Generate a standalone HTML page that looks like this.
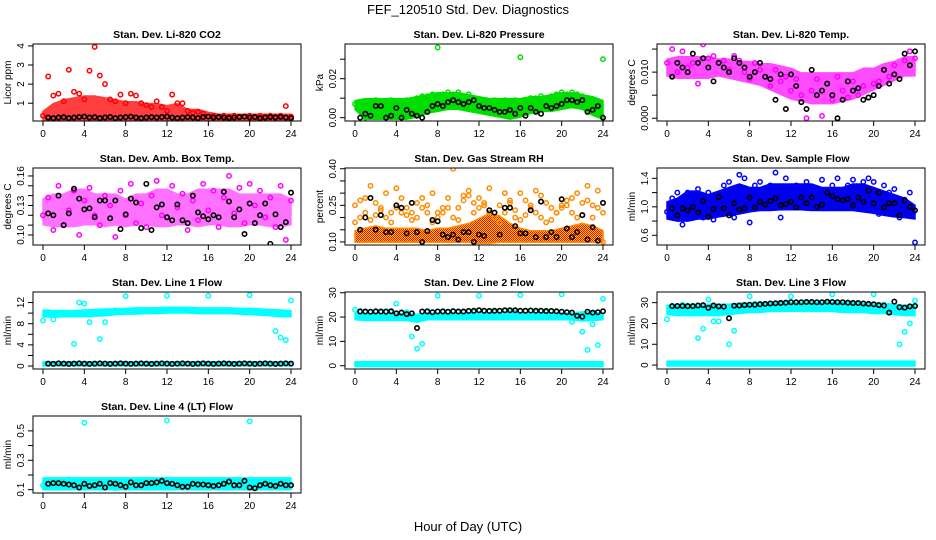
<!DOCTYPE html>
<html><head><meta charset="utf-8"><style>
html,body{margin:0;padding:0;background:#fff;}
svg{display:block;font-family:"Liberation Sans",sans-serif;}
</style></head><body>
<svg id="fig" width="936" height="540" viewBox="0 0 936 540">
<defs>
<pattern id="rhpat" width="2" height="2" patternUnits="userSpaceOnUse"><rect width="2" height="2" fill="#ffd400"/><rect width="1" height="1" fill="#f00"/><rect x="1" y="1" width="1" height="1" fill="#f00"/></pattern>
</defs>
<text x="468" y="14" text-anchor="middle" font-size="13">FEF_120510  Std. Dev. Diagnostics</text>
<text x="468" y="531" text-anchor="middle" font-size="13">Hour of Day (UTC)</text>
</svg>
<script>
// ---- data arrays ----
const xTicks = [0,4,8,12,16,20,24];
const co2Red = [0.35,2.4,1.4,1.5,1.1,2.75,1.6,1.5,1.2,2.7,3.95,2.45,2.0,1.2,1.1,1.45,1.0,1.5,1.4,1.0,0.9,0.8,1.1,0.8,0.6,1.45,1.0,1.0,0.6,0.5,0.55,0.45,0.3,0.35,0.3,0.35,0.3,0.35,0.3,0.3,0.35,0.3,0.35,0.3,0.35,0.3,0.35,0.85,0.3];
const co2Black = [0.25,0.22,0.25,0.27,0.22,0.25,0.28,0.3,0.25,0.27,0.22,0.25,0.28,0.22,0.25,0.27,0.3,0.25,0.22,0.25,0.27,0.25,0.28,0.3,0.25,0.22,0.25,0.27,0.25,0.22,0.28,0.3,0.25,0.27,0.25,0.22,0.25,0.27,0.3,0.25,0.27,0.22,0.25,0.27,0.25,0.28,0.25,0.22];
const co2Hi = [0.5,0.9,1.1,1.2,1.3,1.3,1.2,1.1,1.0,1.0,0.9,0.9,0.8,0.9,0.6,0.6,0.45,0.35,0.35,0.35,0.35,0.35,0.35,0.35,0.35];
const co2Lo = [0.2,0.2,0.2,0.2,0.2,0.2,0.2,0.2,0.2,0.2,0.2,0.2,0.2,0.2,0.2,0.2,0.2,0.2,0.2,0.2,0.2,0.2,0.2,0.2,0.2];
const co2Ticks = [1,2,3,4];
const co2Labels = ["1","2","3","4"];

const presGreen = [0.007,0.008,0.000,0.008,0.009,0.007,0.008,0.009,0.006,0.008,0.009,0.007,0.010,0.011,0.011,0.012,0.036,0.012,0.013,0.012,0.013,0.011,0.012,0.010,0.009,0.009,0.008,0.009,0.008,0.009,0.008,0.009,0.031,0.009,0.010,0.010,0.011,0.010,0.011,0.012,0.013,0.012,0.013,0.012,0.011,0.010,0.009,0.008,0.030];
const presBlack = [0.000,0.002,0.001,0.006,0.006,0.000,0.001,0.005,0.000,0.004,0.002,0.001,0.000,0.003,0.006,0.007,0.006,0.008,0.009,0.008,0.007,0.008,0.009,0.006,0.005,0.005,0.004,0.003,0.003,0.004,0.002,0.005,0.001,0.005,0.003,0.002,0.006,0.005,0.006,0.007,0.009,0.009,0.008,0.009,0.003,0.004,0.006,0.000];
const presHi = [0.008,0.009,0.009,0.009,0.009,0.009,0.010,0.011,0.012,0.012,0.012,0.011,0.010,0.009,0.009,0.009,0.009,0.010,0.010,0.011,0.012,0.012,0.011,0.010,0.008];
const presLo = [0.005,0.000,0.000,0.000,0.000,0.000,0.001,0.003,0.004,0.005,0.005,0.004,0.003,0.002,0.001,0.000,0.001,0.003,0.004,0.004,0.005,0.006,0.005,0.002,0.000];
const presTicks = [0,0.01,0.02,0.03];
const presLabels = ["0.00","","0.02",""];

const tempMag = [0.012,0.015,0.010,0.0145,0.011,0.012,0.0075,0.016,0.013,0.0135,0.012,0.0125,0.0105,0.0135,0.0125,0.010,0.0085,0.012,0.0105,0.009,0.007,0.0105,0.008,0.009,0.006,0.0085,0.005,0.0000,0.006,0.0085,0.0005,0.0075,0.004,0.009,0.006,0.0045,0.008,0.005,0.007,0.0045,0.0075,0.008,0.0105,0.009,0.0115,0.0085,0.0125,0.0145,0.013];
const tempBlack = [0.009,0.012,0.011,0.010,0.014,0.012,0.013,0.011,0.008,0.012,0.011,0.010,0.013,0.012,0.011,0.009,0.010,0.012,0.009,0.0085,0.004,0.0095,0.002,0.0095,0.007,0.0035,0.002,0.0105,0.005,0.006,0.0075,0.005,0.0,0.004,0.008,0.006,0.0065,0.004,0.0045,0.005,0.007,0.0105,0.0075,0.0095,0.0085,0.014,0.0115,0.0145];
const tempHi = [0.0125,0.013,0.013,0.013,0.013,0.0125,0.0125,0.012,0.012,0.0115,0.0115,0.011,0.0105,0.0095,0.0095,0.0095,0.0095,0.0095,0.0095,0.0105,0.0105,0.0115,0.012,0.013,0.013];
const tempLo = [0.0095,0.009,0.009,0.009,0.009,0.0095,0.009,0.0085,0.008,0.0075,0.0065,0.0055,0.0045,0.004,0.0035,0.0035,0.0035,0.004,0.0045,0.0055,0.0065,0.0075,0.0085,0.0095,0.0095];
const tempTicks = [0,0.005,0.010,0.015];
const tempLabels = ["0.000","","0.010",""];

const ambMag = [0.12,0.138,0.105,0.15,0.11,0.125,0.145,0.10,0.135,0.148,0.12,0.11,0.14,0.13,0.098,0.145,0.12,0.152,0.112,0.132,0.108,0.14,0.155,0.12,0.118,0.15,0.128,0.142,0.105,0.135,0.115,0.152,0.125,0.145,0.108,0.138,0.16,0.122,0.148,0.112,0.152,0.13,0.145,0.118,0.138,0.108,0.15,0.095,0.135];
const ambBlack = [0.122,0.12,0.14,0.11,0.122,0.147,0.137,0.126,0.127,0.118,0.135,0.135,0.117,0.135,0.106,0.121,0.137,0.133,0.107,0.152,0.105,0.128,0.131,0.118,0.115,0.131,0.115,0.112,0.14,0.123,0.119,0.116,0.12,0.118,0.144,0.134,0.118,0.126,0.101,0.132,0.112,0.12,0.132,0.091,0.121,0.108,0.113,0.143];
const ambHi = [0.135,0.14,0.14,0.145,0.145,0.14,0.14,0.14,0.135,0.14,0.14,0.145,0.145,0.14,0.14,0.145,0.145,0.145,0.145,0.14,0.14,0.14,0.14,0.14,0.135];
const ambLo = [0.112,0.11,0.11,0.11,0.112,0.112,0.11,0.112,0.11,0.112,0.112,0.11,0.11,0.112,0.112,0.11,0.112,0.112,0.11,0.11,0.112,0.112,0.11,0.11,0.112];
const ambTicks = [0.10,0.11,0.12,0.13,0.14,0.15,0.16];
const ambLabels = ["0.10","","","0.13","","","0.16"];

const rhOrange = [0.25,0.27,0.28,0.33,0.26,0.24,0.3,0.22,0.32,0.28,0.24,0.22,0.26,0.28,0.25,0.3,0.22,0.24,0.28,0.4,0.24,0.29,0.31,0.26,0.28,0.25,0.32,0.22,0.25,0.3,0.26,0.23,0.3,0.27,0.25,0.31,0.29,0.26,0.24,0.22,0.25,0.27,0.28,0.3,0.26,0.33,0.25,0.31,0.1];
const rhMid = [0.18,0.2,0.22,0.19,0.21,0.23,0.2,0.18,0.24,0.22,0.21,0.19,0.2,0.24,0.22,0.18,0.2,0.22,0.24,0.2,0.19,0.27,0.29,0.22,0.24,0.26,0.22,0.2,0.18,0.22,0.27,0.2,0.19,0.21,0.24,0.22,0.2,0.18,0.19,0.22,0.24,0.25,0.22,0.2,0.21,0.27,0.2,0.24,0.22];
const rhBlack = [0.15,0.2,0.28,0.15,0.21,0.14,0.14,0.25,0.24,0.135,0.26,0.14,0.10,0.145,0.19,0.185,0.13,0.12,0.13,0.11,0.14,0.14,0.10,0.13,0.125,0.23,0.22,0.13,0.24,0.24,0.165,0.135,0.135,0.23,0.12,0.265,0.12,0.14,0.12,0.275,0.155,0.12,0.14,0.21,0.11,0.16,0.105,0.26];
const rhHi = [0.14,0.15,0.16,0.15,0.15,0.15,0.15,0.14,0.15,0.15,0.16,0.17,0.19,0.21,0.2,0.17,0.15,0.14,0.14,0.14,0.15,0.16,0.17,0.16,0.14];
const rhLo = [0.105,0.105,0.105,0.105,0.105,0.105,0.105,0.105,0.105,0.105,0.105,0.105,0.1,0.1,0.105,0.105,0.105,0.105,0.105,0.105,0.105,0.105,0.105,0.105,0.105];
const rhTicks = [0.10,0.15,0.20,0.25,0.30,0.35,0.40];
const rhLabels = ["0.10","","","0.25","","","0.40"];

const sampleBlue = [0.93,1.12,1.2,0.75,1.2,1.0,1.25,0.85,1.2,0.82,1.15,1.3,1.35,0.85,1.45,1.4,0.78,1.3,1.35,1.25,1.3,1.48,0.85,1.4,1.2,1.3,1.15,1.35,1.25,1.2,1.38,1.05,1.3,1.4,1.2,1.3,1.38,1.25,1.35,1.4,1.35,0.9,1.3,1.2,1.25,0.85,1.1,1.2,0.5];
const sampleBlack = [0.98,0.88,0.98,0.95,1.0,0.92,1.08,0.86,0.97,1.14,0.98,0.88,1.05,0.96,0.98,1.13,0.99,1.07,1.03,1.08,1.12,1.02,1.04,1.07,0.99,1.13,1.05,1.13,1.0,1.03,1.2,1.15,1.11,1.09,1.11,1.02,1.13,1.07,1.23,1.05,1.2,0.99,1.05,1.05,0.88,1.09,1.0,0.95];
const sampleHi = [1.05,1.1,1.2,1.2,1.15,1.2,1.25,1.3,1.25,1.25,1.3,1.3,1.3,1.3,1.3,1.25,1.25,1.25,1.3,1.3,1.25,1.2,1.15,1.1,1.0];
const sampleLo = [0.85,0.82,0.82,0.85,0.85,0.88,0.9,0.92,0.95,0.97,0.97,0.98,0.98,0.98,0.97,0.97,0.97,0.97,0.97,0.95,0.93,0.9,0.88,0.87,0.85];
const sampleTicks = [0.6,0.8,1.0,1.2,1.4];
const sampleLabels = ["0.6","","1.0","","1.4"];

const l1Cyan = [8.6,10.2,8.8,10.0,10.1,10.0,4.2,12.0,11.8,8.3,10.2,5.1,8.3,10.3,10.5,10.4,13.2,10.5,10.6,10.5,10.5,10.6,10.6,10.7,13.3,10.7,10.6,10.6,10.6,10.5,10.5,10.5,13.3,10.5,10.4,10.4,10.4,10.3,10.4,10.3,13.4,10.3,10.2,10.1,9.9,6.6,5.4,4.9,12.4];
const l1Black = [0.45,0.4,0.5,0.45,0.4,0.45,0.5,0.45,0.4,0.45,0.5,0.45,0.4,0.45,0.5,0.45,0.4,0.45,0.5,0.45,0.4,0.45,0.5,0.45,0.4,0.45,0.5,0.45,0.4,0.45,0.5,0.45,0.4,0.45,0.5,0.45,0.4,0.45,0.5,0.45,0.4,0.45,0.5,0.45,0.4,0.45,0.5,0.45];
const l1Hi = [10.3,10.2,10.2,10.2,10.3,10.4,10.5,10.5,10.6,10.7,10.7,10.7,10.8,10.8,10.8,10.7,10.7,10.7,10.7,10.6,10.6,10.5,10.4,10.3,10.2];
const l1Lo = [9.6,9.5,9.6,9.6,9.6,9.7,9.8,10.0,10.1,10.1,10.2,10.2,10.3,10.3,10.3,10.2,10.2,10.2,10.2,10.1,10.0,9.9,9.8,9.6,9.6];
const l1BaseHi = [0.5,0.5,0.5,0.5,0.5,0.5,0.5,0.5,0.5,0.5,0.5,0.5,0.5,0.5,0.5,0.5,0.5,0.5,0.5,0.5,0.5,0.5,0.5,0.5,0.5];
const l1BaseLo = [0.3,0.3,0.3,0.3,0.3,0.3,0.3,0.3,0.3,0.3,0.3,0.3,0.3,0.3,0.3,0.3,0.3,0.3,0.3,0.3,0.3,0.3,0.3,0.3,0.3];
const l1Ticks = [0,2,4,6,8,10,12];
const l1Labels = ["0","","4","","8","","12"];

const l2Cyan = [23,22.5,22,22,22.5,22,22.5,22,25.5,22,22,12,7,9,22.5,22,28.8,22.5,22,22.5,22,22,22.5,22,28.8,22.5,22.5,22,22.5,22.5,22,22,29,22.5,22.5,22,22.5,22,22.5,22,29.3,22,18,21,14,6.5,17,8.5,27.5];
const l2Black = [22.3,22.3,22.2,22.3,22.3,22.2,22.4,21.5,21.8,21.2,21.5,15.5,22.3,22.3,22.0,22.3,22.3,22.2,22.4,22.3,22.3,22.5,22.6,22.8,22.6,22.5,22.6,22.6,22.8,22.8,22.8,22.6,22.6,22.7,22.6,22.6,22.5,22.5,22.4,22.2,22.0,21.8,20.5,20.2,22.2,21.8,22.0,22.4];
const l2Hi = [21,20.8,20.8,20.8,20.8,20.8,20.5,21,21,21,21,21,21,21,21,21,21,21,21,21,21,21,21.5,21.5,21];
const l2Lo = [19.5,19.2,19.2,19.2,19.2,19.2,18.5,19.5,19.5,19.5,19.5,19.5,19.5,19.5,19.5,19.5,19.5,19.5,19.5,19.5,19.5,19.5,19.0,19.2,19.5];
const l2BaseHi = [1.0,1.0,1.0,1.0,1.0,1.0,1.0,1.0,1.0,1.0,1.0,1.0,1.0,1.0,1.0,1.0,1.0,1.0,1.0,1.0,1.0,1.0,1.0,1.0,1.0];
const l2BaseLo = [0.3,0.3,0.3,0.3,0.3,0.3,0.3,0.3,0.3,0.3,0.3,0.3,0.3,0.3,0.3,0.3,0.3,0.3,0.3,0.3,0.3,0.3,0.3,0.3,0.3];
const l2Ticks = [0,10,20,30];
const l2Labels = ["0","10","20","30"];

const l3Cyan = [22,28.5,28,29,28.5,28.5,13,17.5,31.5,21,21,28,10,16.5,28.5,29,33,29.5,29.5,29,29.5,29.5,30,29.5,33,30,30,29.5,30,30,30,30,34,30,30,29.5,30,29.5,29.5,29.5,34,29,29,28.5,28,10,16,20,31];
const l3Black = [28.3,28.4,28.4,28.3,28.3,28.6,28.8,27.5,28.6,28.2,28.1,22.5,28.5,28.6,28.8,29.0,29.0,29.2,29.4,29.6,29.7,29.8,30.0,30.2,30.2,30.2,30.3,30.3,30.2,30.2,30.4,30.3,30.2,30.2,30.0,29.8,29.8,29.6,29.4,29.2,28.8,28.6,25.2,30.5,27.8,27.6,28.2,28.4];
const l3Hi = [28,28,28,28,28.5,28.5,28.5,29,29,29.2,29.5,29.5,29.5,29.5,29.5,29.5,29.5,29.5,29.3,29,29,28.5,28.5,28,28];
const l3Lo = [25,24.5,24.5,24.5,24.5,24.5,25,25.5,26,26,26.5,26.5,26.5,26.5,26.5,26.5,26.5,26,26,26,25.5,25.5,25,24.5,24.5];
const l3BaseHi = [1.2,1.2,1.2,1.2,1.2,1.2,1.2,1.2,1.2,1.2,1.2,1.2,1.2,1.2,1.2,1.2,1.2,1.2,1.2,1.2,1.2,1.2,1.2,1.2,1.2];
const l3BaseLo = [0.3,0.3,0.3,0.3,0.3,0.3,0.3,0.3,0.3,0.3,0.3,0.3,0.3,0.3,0.3,0.3,0.3,0.3,0.3,0.3,0.3,0.3,0.3,0.3,0.3];
const l3Ticks = [0,10,20,30];
const l3Labels = ["0","10","20","30"];

const l4Cyan = [0.13,0.15,0.16,0.12,0.14,0.17,0.13,0.15,0.555,0.14,0.12,0.16,0.13,0.15,0.11,0.16,0.14,0.12,0.15,0.13,0.16,0.14,0.12,0.17,0.57,0.15,0.13,0.16,0.12,0.14,0.15,0.13,0.16,0.12,0.14,0.15,0.13,0.16,0.12,0.14,0.565,0.13,0.16,0.12,0.15,0.13,0.14,0.16,0.13];
const l4Black = [0.14,0.145,0.145,0.14,0.135,0.13,0.115,0.14,0.125,0.13,0.14,0.115,0.145,0.14,0.13,0.12,0.15,0.13,0.13,0.145,0.145,0.15,0.16,0.145,0.14,0.13,0.12,0.12,0.14,0.135,0.135,0.13,0.125,0.13,0.14,0.155,0.13,0.13,0.16,0.115,0.11,0.13,0.14,0.13,0.125,0.14,0.13,0.13];
const l4Hi = [0.17,0.17,0.17,0.17,0.17,0.17,0.17,0.17,0.17,0.17,0.17,0.17,0.17,0.17,0.17,0.17,0.17,0.17,0.17,0.17,0.17,0.17,0.17,0.17,0.17];
const l4Lo = [0.11,0.11,0.11,0.11,0.11,0.11,0.11,0.11,0.11,0.11,0.11,0.11,0.11,0.11,0.11,0.11,0.11,0.11,0.11,0.11,0.11,0.11,0.11,0.11,0.11];
const l4Ticks = [0.1,0.2,0.3,0.4,0.5];
const l4Labels = ["0.1","","0.3","","0.5"];

// ---- panel layout/styling ----
const panels = [
 {name:"co2",title:"Stan. Dev. Li-820 CO2",ylab:"Licor ppm",ylim:[0.07,4.1],ticks:co2Ticks,labels:co2Labels,col:"#ff0000",fill:"#ff0000",op:0.75,sc:[co2Red],blk:co2Black,hi:co2Hi,lo:co2Lo},
 {name:"pressure",title:"Stan. Dev. Li-820 Pressure",ylab:"kPa",ylim:[-0.0017,0.0378],ticks:presTicks,labels:presLabels,col:"#00e000",fill:"#00dd00",op:1,sc:[presGreen],blk:presBlack,hi:presHi,lo:presLo},
 {name:"li820-temp",title:"Stan. Dev. Li-820 Temp.",ylab:"degrees C",ylim:[-0.0006,0.0161],ticks:tempTicks,labels:tempLabels,col:"#ff00ff",fill:"#ff00ff",op:0.7,sc:[tempMag],blk:tempBlack,hi:tempHi,lo:tempLo},
 {name:"amb-box-temp",title:"Stan. Dev. Amb. Box Temp.",ylab:"degrees C",ylim:[0.0898,0.1681],ticks:ambTicks,labels:ambLabels,col:"#ff00ff",fill:"#ff00ff",op:0.55,sc:[ambMag],blk:ambBlack,hi:ambHi,lo:ambLo},
 {name:"gas-stream-rh",title:"Stan. Dev. Gas Stream RH",ylab:"percent",ylim:[0.0875,0.403],ticks:rhTicks,labels:rhLabels,col:"#ff8c00",fill:"url(#rhpat)",op:1,sc:[rhOrange,rhMid],blk:rhBlack,hi:rhHi,lo:rhLo},
 {name:"sample-flow",title:"Stan. Dev. Sample Flow",ylab:"ml/min",ylim:[0.464,1.545],ticks:sampleTicks,labels:sampleLabels,col:"#0000ff",fill:"#0000ee",op:1,sc:[sampleBlue],blk:sampleBlack,hi:sampleHi,lo:sampleLo},
 {name:"line1-flow",title:"Stan. Dev. Line 1 Flow",ylab:"ml/min",ylim:[-0.56,13.99],ticks:l1Ticks,labels:l1Labels,col:"#00ffff",fill:"#00ffff",op:1,sc:[l1Cyan],blk:l1Black,hi:l1Hi,lo:l1Lo,hi2:l1BaseHi,lo2:l1BaseLo},
 {name:"line2-flow",title:"Stan. Dev. Line 2 Flow",ylab:"ml/min",ylim:[-1.35,30.3],ticks:l2Ticks,labels:l2Labels,col:"#00ffff",fill:"#00ffff",op:1,sc:[l2Cyan],blk:l2Black,hi:l2Hi,lo:l2Lo,hi2:l2BaseHi,lo2:l2BaseLo},
 {name:"line3-flow",title:"Stan. Dev. Line 3 Flow",ylab:"ml/min",ylim:[-1.87,35.1],ticks:l3Ticks,labels:l3Labels,col:"#00ffff",fill:"#00ffff",op:1,sc:[l3Cyan],blk:l3Black,hi:l3Hi,lo:l3Lo,hi2:l3BaseHi,lo2:l3BaseLo},
 {name:"line4-flow",title:"Stan. Dev. Line 4 (LT) Flow",ylab:"ml/min",ylim:[0.0775,0.601],ticks:l4Ticks,labels:l4Labels,col:"#00ffff",fill:"#00ffff",op:1,sc:[l4Cyan],blk:l4Black,hi:l4Hi,lo:l4Lo}
];

const NS = "http://www.w3.org/2000/svg";
const svg = document.getElementById("fig");
function mk(tag, attrs, parent){ const e=document.createElementNS(NS,tag); for(const k in attrs) e.setAttribute(k,attrs[k]); (parent||svg).appendChild(e); return e; }

panels.forEach((p, k) => {
  const c = k % 3, r = Math.floor(k / 3);
  const L = 33 + 312*c, T = 44 + 124*r, W = 268, H = 77;
  const xs = h => L + 10 + h * (248/24);
  const ys = v => T + H - (v - p.ylim[0]) / (p.ylim[1] - p.ylim[0]) * H;
  const g = mk("g", {});
  
  
  const clipId = "clip" + k;
  const cp = mk("clipPath", {id: clipId}, g);
  mk("rect", {x:L, y:T, width:W, height:H}, cp);
  const plot = mk("g", {"clip-path":"url(#"+clipId+")"}, g);
  
  

  function band(hi, lo, nm){
    let d = "";
    hi.forEach((v,i)=>{ d += (i?"L":"M") + xs(i*24/(hi.length-1)).toFixed(1) + "," + (ys(v)-1.5).toFixed(1); });
    for(let i=lo.length-1;i>=0;i--) d += "L" + xs(i*24/(lo.length-1)).toFixed(1) + "," + (ys(lo[i])+1.5).toFixed(1);
    const b = mk("path", {d:d+"Z", fill:p.fill, stroke:p.col, "stroke-width":"1.5", "stroke-linejoin":"round", opacity:p.op}, plot);
    
    
  }
  band(p.hi, p.lo, 'dense-band');
  if (p.hi2) band(p.hi2, p.lo2, 'baseline-band');

  p.sc.forEach(arr => {
    arr.forEach((v,i) => {
      const pt = mk("circle", {cx:xs(i*24/(arr.length-1)), cy:ys(v), r:2.2, fill:"none", stroke:p.col, "stroke-width":1.5}, plot);
      
      
    });
  });
  p.blk.forEach((v,i) => {
    const pt = mk("circle", {cx:xs(0.5 + i*23.5/(p.blk.length-1)), cy:ys(v), r:2.2, fill:"none", stroke:"#000", "stroke-width":1.6}, plot);
    
    
  });

  const box = mk("rect", {x:L, y:T, width:W, height:H, fill:"none", stroke:"#000", "stroke-width":1}, g);
  
  

  const tt = mk("text", {x:L+W/2, y:T-6, "text-anchor":"middle", "font-size":"10.5", "font-weight":"bold"}, g);
  tt.textContent = p.title;
  
  

  const yl = mk("text", {x:0, y:0, transform:"translate("+(L-22)+","+(T+H/2)+") rotate(-90)", "text-anchor":"middle", "font-size":"10"}, g);
  yl.textContent = p.ylab;
  
  

  p.ticks.forEach((t,i) => {
    const y = ys(t);
    const tk = mk("line", {x1:L-5, x2:L, y1:y, y2:y, stroke:"#000", "stroke-width":1}, g);
    
    
    if (p.labels[i]) {
      const tl = mk("text", {x:0, y:0, transform:"translate("+(L-9)+","+y+") rotate(-90)", "text-anchor":"middle", "font-size":"10"}, g);
      tl.textContent = p.labels[i];
      
      
    }
  });
  xTicks.forEach(t => {
    const x = xs(t);
    const tk = mk("line", {x1:x, x2:x, y1:T+H, y2:T+H+5, stroke:"#000", "stroke-width":1}, g);
    
    
    const tl = mk("text", {x:x, y:T+H+16, "text-anchor":"middle", "font-size":"10"}, g);
    tl.textContent = String(t);
    
    
  });
});
</script>
</body></html>
